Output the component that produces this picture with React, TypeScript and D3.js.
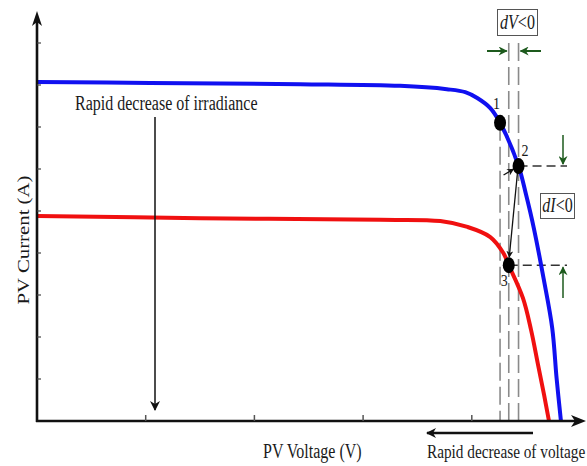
import React from "react";
import * as d3 from "d3";

// I–V curves of a PV array before and after a drop in irradiance
const voltageTicks = [1, 2, 3, 4];
const currentTicks = [1, 2, 3, 4, 5, 6, 7, 8, 9];

const highIrrVoltage = [0, 1.04, 2.42, 3.34, 3.77, 3.94, 4.05, 4.17, 4.26, 4.43, 4.5, 4.57, 4.66, 4.74, 4.78, 4.82];
const highIrrCurrent = [8.07, 8.05, 8.02, 7.98, 7.9, 7.83, 7.69, 7.45, 7.1, 6.07, 5.38, 4.6, 3.4, 2.21, 1.02, 0];

const lowIrrVoltage = [0, 1.5, 3.16, 3.71, 3.96, 4.17, 4.29, 4.34, 4.47, 4.545, 4.61, 4.665, 4.71];
const lowIrrCurrent = [4.88, 4.83, 4.79, 4.76, 4.62, 4.38, 4.0, 3.71, 2.93, 2.17, 1.33, 0.62, 0];

// operating points 1 → 2 → 3
const pointLabels = ["1", "2", "3"];
const pointVoltage = [4.26, 4.43, 4.34];
const pointCurrent = [7.1, 6.07, 3.71];

const W = 587;
const H = 466;
const FONT = "'Liberation Serif', 'Times New Roman', serif";
const GREEN = "#1d5a1d";

export default function App() {
  const x = d3.scaleLinear().domain([0, 5]).range([37, 580.5]);
  const y = d3.scaleLinear().domain([0, 10]).range([421, 1]);

  const line = d3
    .line<[number, number]>()
    .x((d) => x(d[0]))
    .y((d) => y(d[1]))
    .curve(d3.curveCatmullRom.alpha(0.5));

  const high = highIrrVoltage.map((v, i) => [v, highIrrCurrent[i]] as [number, number]);
  const low = lowIrrVoltage.map((v, i) => [v, lowIrrCurrent[i]] as [number, number]);

  const px = pointVoltage.map((v) => x(v));
  const py = pointCurrent.map((c) => y(c));
  const x0 = x(0);
  const y0 = y(0);
  const dashTop = 43;
  const hEnd = 567;

  const stretched = (tx: number, ty: number) => `translate(${tx},${ty}) scale(1,1.25)`;

  return (
    <svg
      width={W}
      height={H}
      viewBox={`0 0 ${W} ${H}`}
      style={{ position: "absolute", left: 0, top: 0, background: "#fff" }}
      fontFamily={FONT}
    >
      <defs>
        <marker id="blackHead" viewBox="0 0 10 10" refX="9" refY="5" markerWidth="7" markerHeight="7" markerUnits="userSpaceOnUse" orient="auto">
          <path d="M0,0 L10,5 L0,10 L3,5 Z" fill="#111" />
        </marker>
        <marker id="bigHead" viewBox="0 0 10 10" refX="9" refY="5" markerWidth="14" markerHeight="10" markerUnits="userSpaceOnUse" orient="auto">
          <path d="M0,0 L10,5 L0,10 L3,5 Z" fill="#111" />
        </marker>
        <marker id="greenHead" viewBox="0 0 10 10" refX="9" refY="5" markerWidth="11" markerHeight="9" markerUnits="userSpaceOnUse" orient="auto">
          <path d="M0,0 L10,5 L0,10 L3,5 Z" fill={GREEN} />
        </marker>
      </defs>

      {/* vertical dashed guides through the operating points */}
      <line x1={px[0]} x2={px[0]} y1={py[0]} y2={y0} stroke="#8a8a8a" strokeWidth={1.6} strokeDasharray="18 6" />
      <line x1={px[1]} x2={px[1]} y1={dashTop} y2={y0} stroke="#8a8a8a" strokeWidth={1.6} strokeDasharray="18 6" />
      <line x1={px[2]} x2={px[2]} y1={dashTop} y2={y0} stroke="#8a8a8a" strokeWidth={1.6} strokeDasharray="18 6" />

      {/* horizontal dashed guides */}
      <line x1={px[1]} x2={hEnd} y1={py[1]} y2={py[1]} stroke="#333" strokeWidth={1.4} strokeDasharray="9 5" />
      <line x1={px[2]} x2={hEnd} y1={py[2]} y2={py[2]} stroke="#333" strokeWidth={1.4} strokeDasharray="9 5" />

      {/* curves */}
      <path d={line(low) ?? ""} fill="none" stroke="#f01010" strokeWidth={4} strokeLinejoin="round" />
      <path d={line(high) ?? ""} fill="none" stroke="#1010f0" strokeWidth={4} strokeLinejoin="round" />

      {/* axes */}
      <line x1={x0} x2={x0} y1={y0 + 1} y2={18} stroke="#111" strokeWidth={2.6} />
      <path d={`M${x0},11 L${x0 + 5},26 L${x0},22 L${x0 - 5},26 Z`} fill="#111" />
      <line x1={x0 - 1} x2={578} y1={y0} y2={y0} stroke="#111" strokeWidth={2.6} />
      <path d={`M586,${y0} L571,${y0 - 6} L575,${y0} L571,${y0 + 6} Z`} fill="#111" />
      {currentTicks.map((t) => (
        <line key={`yt${t}`} x1={x0} x2={x0 + 4} y1={y(t)} y2={y(t)} stroke="#444" strokeWidth={1.2} />
      ))}
      {voltageTicks.map((t) => (
        <line key={`xt${t}`} x1={x(t)} x2={x(t)} y1={y0} y2={y0 - 6} stroke="#555" strokeWidth={1.5} />
      ))}

      {/* transition arrows between operating points */}
      <line x1={px[1] - 1} y1={py[1] + 6} x2={px[2] + 0.5} y2={py[2] - 8} stroke="#111" strokeWidth={1.3} markerEnd="url(#blackHead)" />
      <line x1={px[1] - 15} y1={py[1] + 9} x2={px[1] - 5} y2={py[1] + 3} stroke="#111" strokeWidth={1.3} markerEnd="url(#blackHead)" />

      {/* operating point markers */}
      {pointLabels.map((lab, i) => (
        <ellipse key={`pt${lab}`} cx={px[i]} cy={py[i]} rx={6} ry={8} fill="#000" />
      ))}
      <text transform={stretched(px[0] - 7, py[0] - 14)} fontSize={14} fill="#1a1a1a">{pointLabels[0]}</text>
      <text transform={stretched(px[1] + 3, py[1] - 10)} fontSize={14} fill="#1a1a1a">{pointLabels[1]}</text>
      <text transform={stretched(px[2] - 8, py[2] + 21)} fontSize={14} fill="#1a1a1a">{pointLabels[2]}</text>

      {/* dV < 0 annotation */}
      <rect x={497.5} y={9.5} width={40} height={26} fill="#fff" stroke="#555" strokeWidth={1} />
      <text transform={stretched(517.5, 28.5)} textAnchor="middle" fontSize={16} fill="#1a1a1a">
        <tspan fontStyle="italic">dV</tspan>&lt;0
      </text>
      <line x1={487} y1={51} x2={px[2] - 2} y2={51} stroke={GREEN} strokeWidth={2} markerEnd="url(#greenHead)" />
      <line x1={541} y1={51} x2={px[1] + 2} y2={51} stroke={GREEN} strokeWidth={2} markerEnd="url(#greenHead)" />

      {/* dI < 0 annotation */}
      <rect x={540.5} y={193.5} width={34} height={25} fill="#fff" stroke="#555" strokeWidth={1} />
      <text transform={stretched(557.5, 212)} textAnchor="middle" fontSize={16} fill="#1a1a1a">
        <tspan fontStyle="italic">dI</tspan>&lt;0
      </text>
      <line x1={563} y1={135} x2={563} y2={py[1] - 2} stroke={GREEN} strokeWidth={1.5} markerEnd="url(#greenHead)" />
      <line x1={563} y1={298} x2={563} y2={py[2] + 2} stroke={GREEN} strokeWidth={1.5} markerEnd="url(#greenHead)" />

      {/* irradiance drop annotation */}
      <text transform={stretched(75, 110)} fontSize={16} fill="#1a1a1a">Rapid decrease of irradiance</text>
      <line x1={155} y1={117} x2={155} y2={410} stroke="#111" strokeWidth={1.5} markerEnd="url(#bigHead)" />

      {/* voltage drop annotation */}
      <line x1={533} y1={433} x2={427} y2={433} stroke="#111" strokeWidth={2.5} markerEnd="url(#bigHead)" />
      <text transform={stretched(427, 458)} fontSize={15.3} fill="#1a1a1a">Rapid decrease of voltage</text>

      {/* axis titles */}
      <text transform={stretched(263, 458)} fontSize={16} fill="#1a1a1a">PV Voltage (V)</text>
      <text transform={`translate(29,240) scale(1,1.3) rotate(-90)`} textAnchor="middle" fontSize={16} fill="#1a1a1a">
        PV Current (A)
      </text>
    </svg>
  );
}
